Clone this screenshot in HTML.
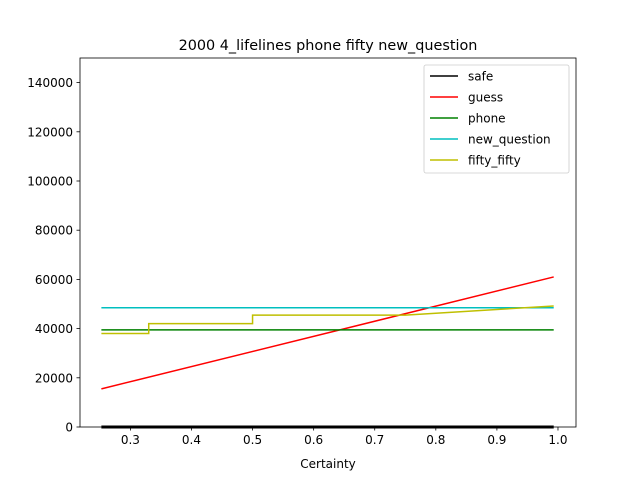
<!DOCTYPE html>
<html><head><meta charset="utf-8">
<style>
body{margin:0;background:#fff}
svg{display:block;font-family:"DejaVu Sans","Liberation Sans",sans-serif}
</style></head>
<body>
<svg id="chart" width="640" height="480" xmlns="http://www.w3.org/2000/svg">
<rect width="640" height="480" fill="#fff"/>
<text x="328" y="50" font-size="14.4" text-anchor="middle">2000 4_lifelines phone fifty new_question</text>
<g id="plot"></g>
<rect x="80" y="58" width="496" height="369" fill="none" stroke="#000" stroke-width="0.8"/>
<text x="328" y="468" font-size="12" text-anchor="middle">Certainty</text>
<g id="legend"></g>
</svg>
<script>
const xTicks=[0.3,0.4,0.5,0.6,0.7,0.8,0.9,1.0];
const yTicks=[0,20000,40000,60000,80000,100000,120000,140000];
const seriesNames=["safe","guess","phone","new_question","fifty_fifty"];
const seriesColors=["#000000","#ff0000","#008000","#00bfbf","#bfbf00"];
const safeX=[0.2525,0.993], safeY=[0,0];
const guessX=[0.2525,0.993], guessY=[15500,61000];
const phoneX=[0.2525,0.993], phoneY=[39500,39500];
const newqX=[0.2525,0.993], newqY=[48500,48500];
const fiftyX=[0.2525,0.33,0.33,0.5,0.5,0.75,0.993];
const fiftyY=[38000,38000,42000,42000,45500,45500,49200];
const X0=80,X1=576,Y0=427,Y1=58,xmin=0.2175,xmax=1.0295,ymin=0,ymax=150000;
const sx=v=>X0+(v-xmin)/(xmax-xmin)*(X1-X0);
const sy=v=>Y0-(v-ymin)/(ymax-ymin)*(Y0-Y1);
const NS="http://www.w3.org/2000/svg";
const svg=document.getElementById('chart'),plot=document.getElementById('plot'),leg=document.getElementById('legend');
function mk(t,a,p){const e=document.createElementNS(NS,t);for(const k in a)e.setAttribute(k,a[k]);(p||svg).appendChild(e);return e;}
xTicks.forEach(t=>{const x=sx(t);
 const l=mk('line',{x1:x,x2:x,y1:Y0,y2:Y0+3.5,stroke:'#000','stroke-width':0.8});
 
 
 const tx=mk('text',{x:x,y:Y0+17,'font-size':12,'text-anchor':'middle'});tx.textContent=t.toFixed(1);
 
 });
yTicks.forEach(t=>{const y=sy(t);
 const l=mk('line',{x1:X0-3.5,x2:X0,y1:y,y2:y,stroke:'#000','stroke-width':0.8});
 
 
 const tx=mk('text',{x:X0-7,y:y+4.5,'font-size':12,'text-anchor':'end'});tx.textContent=t;
 
 });
const data=[[safeX,safeY],[guessX,guessY],[phoneX,phoneY],[newqX,newqY],[fiftyX,fiftyY]];
data.forEach((d,i)=>{const pts=d[0].map((x,j)=>sx(x)+','+sy(d[1][j])).join(' ');
 const p=mk('polyline',{points:pts,fill:'none',stroke:seriesColors[i],'stroke-width':i==0?3:1.5},plot);
 
 });
const lb=mk('rect',{x:424,y:65,width:145,height:108,fill:'#fff',stroke:'#ccc','stroke-width':0.8,rx:2},leg);


seriesNames.forEach((n,i)=>{const y=76+i*21;
 const g=mk('g',{},leg);
 
 
 mk('line',{x1:430,x2:458,y1:y,y2:y,stroke:seriesColors[i],'stroke-width':1.5},g);
 const t=mk('text',{x:468,y:y+4.5,'font-size':12},g);t.textContent=n;});
</script>
</body></html>
